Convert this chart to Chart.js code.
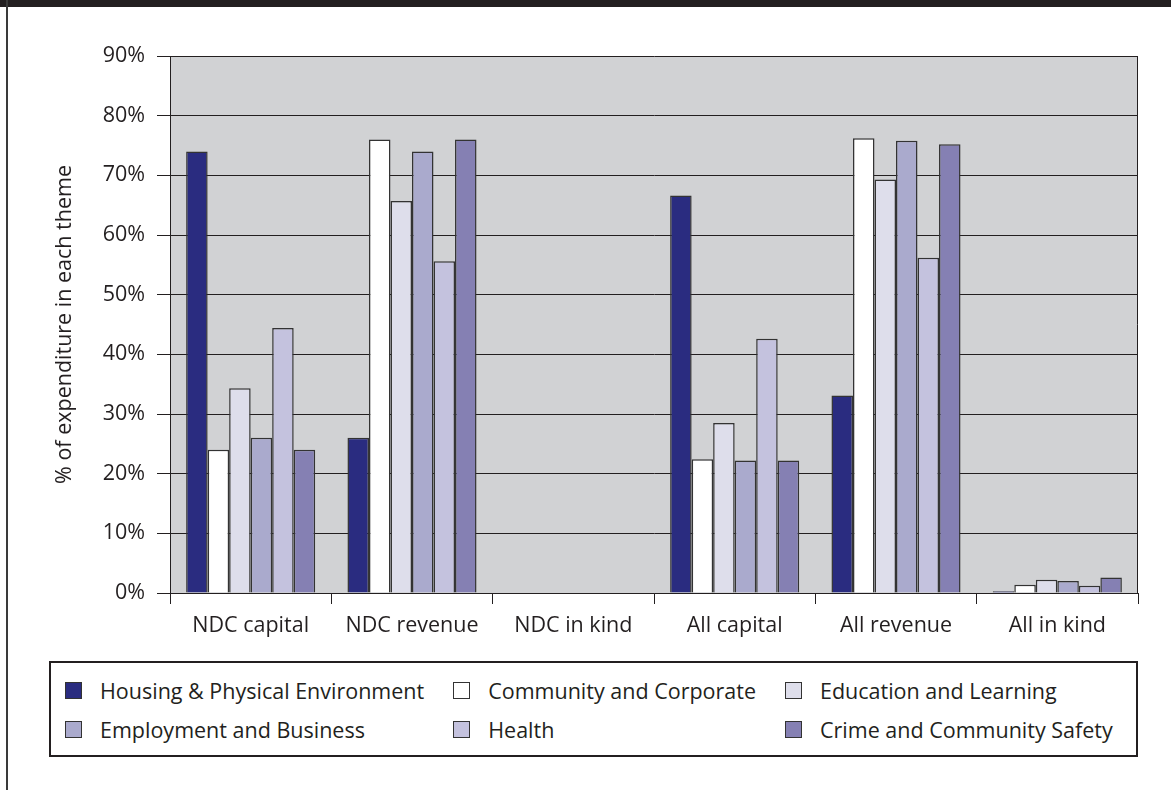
<!DOCTYPE html>
<html>
<head>
<meta charset="utf-8">
<title>Expenditure by theme</title>
<script src="https://cdn.jsdelivr.net/npm/chart.js@4.4.0/dist/chart.umd.min.js"></script>
<style>
  html, body { margin: 0; padding: 0; background: #fff; }
  body { width: 1171px; height: 790px; position: relative; overflow: hidden;
         font-family: 'Open Sans', sans-serif; color: #231f20; }
  .top-band { position: absolute; left: 0; top: 0; width: 1171px; height: 7px; background: #231f20; }
  .left-rule { position: absolute; left: 6px; top: 0; width: 2px; height: 790px; background: #3a3a3a; }
  #chart { position: absolute; left: 0; top: 0; }
  #legend { position: absolute; left: 49px; top: 661px; width: 1085px; height: 92px;
            border: 2px solid #231f20; box-sizing: content-box; }
  #legend ul { list-style: none; margin: 0; padding: 8px 0 0 14px;
               display: grid; grid-template-columns: auto auto auto; justify-content: start;
               column-gap: 29px; }
  #legend li { display: flex; align-items: center; height: 39px; font-size: 21.5px; white-space: nowrap; }
  #legend .box { width: 15px; height: 15px; border: 1px solid #333; margin-right: 18px; flex: none; }
</style>
</head>
<body>
<div class="top-band"></div>
<div class="left-rule"></div>
<canvas id="chart" width="1171" height="660"></canvas>
<div id="legend"></div>

<script>
// categories along the x axis
const categories = ['NDC capital', 'NDC revenue', 'NDC in kind', 'All capital', 'All revenue', 'All in kind'];

// % of expenditure in each theme, one array per theme
const housing    = [74.0, 26.0, 0, 66.6, 33.1, 0.3];
const community  = [24.0, 76.0, 0, 22.4, 76.2, 1.4];
const education  = [34.3, 65.7, 0, 28.5, 69.3, 2.2];
const employment = [26.0, 74.0, 0, 22.2, 75.8, 2.0];
const health     = [44.4, 55.6, 0, 42.6, 56.2, 1.2];
const crime      = [24.0, 76.0, 0, 22.2, 75.2, 2.6];

const themeNames = [
  'Housing & Physical Environment', 'Community and Corporate', 'Education and Learning',
  'Employment and Business', 'Health', 'Crime and Community Safety'
];
const themeValues = [housing, community, education, employment, health, crime];
const themeColours = ['#2a2c80', '#ffffff', '#dedeeb', '#aaaacd', '#c4c2de', '#8580b3'];

const yMax = 90;
const yStep = 10;

const ink = '#231f20';

Chart.defaults.font.family = "'Open Sans', sans-serif";
Chart.defaults.font.size = 21.5;
Chart.defaults.color = ink;

// grey plot background plus the right-hand frame line
const plotFrame = {
  id: 'plotFrame',
  beforeDraw(chart) {
    const { ctx, chartArea: a } = chart;
    ctx.save();
    ctx.fillStyle = '#d1d2d4';
    ctx.fillRect(a.left, a.top, a.right - a.left, a.bottom - a.top);
    ctx.restore();
  },
  afterDraw(chart) {
    const { ctx, chartArea: a } = chart;
    ctx.save();
    ctx.strokeStyle = ink;
    ctx.lineWidth = 1;
    ctx.beginPath();
    ctx.moveTo(Math.round(a.right) - 0.5, a.top);
    ctx.lineTo(Math.round(a.right) - 0.5, a.bottom);
    ctx.stroke();
    ctx.restore();
  }
};

// legend laid out in three columns underneath the chart
const htmlLegend = {
  id: 'htmlLegend',
  afterUpdate(chart) {
    const box = document.getElementById('legend');
    box.innerHTML = '';
    const ul = document.createElement('ul');
    chart.options.plugins.legend.labels.generateLabels(chart).forEach(item => {
      const li = document.createElement('li');
      const sw = document.createElement('span');
      sw.className = 'box';
      sw.style.background = item.fillStyle;
      li.appendChild(sw);
      li.appendChild(document.createTextNode(item.text));
      ul.appendChild(li);
    });
    box.appendChild(ul);
  }
};

const ctx = document.getElementById('chart').getContext('2d');
new Chart(ctx, {
  type: 'bar',
  data: {
    labels: categories,
    datasets: themeNames.map((name, i) => ({
      label: name,
      data: themeValues[i],
      backgroundColor: themeColours[i],
      borderColor: '#333',
      borderWidth: 1.5,
      categoryPercentage: 0.8,
      barPercentage: 1.0
    }))
  },
  options: {
    responsive: false,
    animation: false,
    devicePixelRatio: 1,
    layout: { padding: { left: 0, right: 33, top: 56, bottom: 0 } },
    plugins: {
      legend: { display: false },
      tooltip: { enabled: false }
    },
    scales: {
      x: {
        grid: { offset: true, drawOnChartArea: false, drawTicks: true, tickLength: 11, color: ink, lineWidth: 1 },
        border: { color: ink, width: 1 },
        ticks: { padding: 9, maxRotation: 0, autoSkip: false },
        afterFit: s => { s.height = 67; }
      },
      y: {
        min: 0,
        max: yMax,
        ticks: { stepSize: yStep, padding: 12, callback: v => v + '%' },
        grid: { color: ink, lineWidth: 1, tickLength: 13 },
        border: { color: ink, width: 1 },
        title: { display: true, text: '% of expenditure in each theme', padding: { top: 52, bottom: 0 } },
        afterFit: s => { s.width = 170; }
      }
    }
  },
  plugins: [plotFrame, htmlLegend]
});
</script>
</body>
</html>
